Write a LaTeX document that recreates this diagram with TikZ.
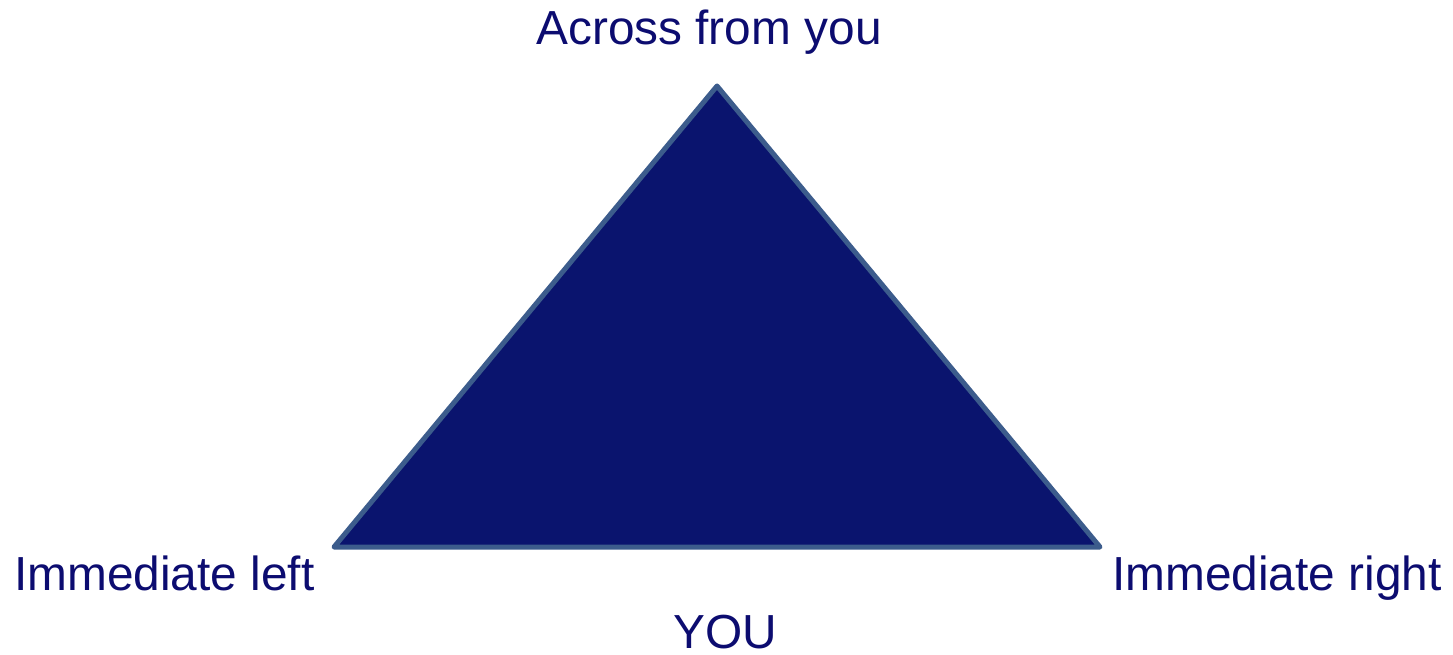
\documentclass[tikz,border=0pt]{standalone}
\usepackage{fontspec}
\setmainfont{Liberation Sans}
\definecolor{navyfill}{HTML}{0A146E}
\definecolor{edgeblue}{HTML}{3C5C8C}
\definecolor{textnavy}{HTML}{0C0C70}
\begin{document}
\begin{tikzpicture}[x=1pt,y=-1pt,
  lbl/.style={text=textnavy,font=\fontsize{47.8}{50}\selectfont,inner sep=0pt,anchor=base},
  tri/.style={fill=navyfill,draw=edgeblue,line width=5pt,line join=round}]
\useasboundingbox (0,0) rectangle (1453,655);
\coordinate (top) at (717,86);
\coordinate (bl) at (334,547);
\coordinate (br) at (1100,547);
\draw[tri] (top) -- (bl) -- (br) -- cycle;
\node[lbl] (across) at (709,45) {Across from you};
\node[lbl,anchor=base west] (left) at (14,590) {Immediate left};
\node[lbl,anchor=base west] (right) at (1112,590) {Immediate right};
\node[lbl] (you) at (725,648) {YOU};
\end{tikzpicture}
\end{document}
